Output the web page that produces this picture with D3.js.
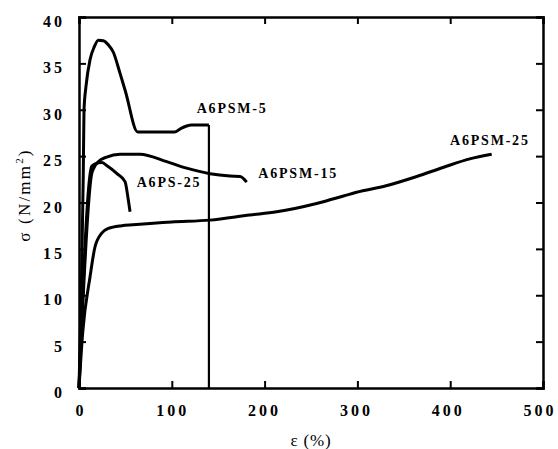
<!DOCTYPE html>
<html>
<head>
<meta charset="utf-8">
<script src="https://cdn.jsdelivr.net/npm/d3@7"></script>
<style>
  body { margin: 0; background: #fff; }
  .tick text { font-family: "Liberation Serif", serif; font-weight: bold; font-size: 16px; letter-spacing: 3px; fill: #000; }
  .lbl { font-family: "Liberation Serif", serif; font-weight: bold; font-size: 14px; letter-spacing: 1.8px; fill: #000; }
  .ttl { font-family: "Liberation Serif", serif; font-size: 17px; fill: #000; }
</style>
</head>
<body>
<div id="chart"></div>
<script>
// curve data (strain %, stress N/mm2)
var psm5X = [0, 1.2, 2.7, 4.6, 5.4, 7.5, 11.9, 16.5, 20.8, 26.2, 31.6, 37, 44, 50, 63.3, 103.4, 110, 116, 121.4, 140, 140]
var psm5Y = [0, 5, 11.6, 23, 30, 32.5, 35.4, 36.8, 37.5, 37.45, 37, 36.2, 34, 32, 27.6, 27.6, 28.0, 28.25, 28.35, 28.35, 0]

var psm15X = [0, 13.7, 15.4, 20.8, 29.8, 44.2, 65.7, 94.5, 116, 141.2, 162.7, 173.5, 180.7]
var psm15Y = [0, 23.1, 23.6, 24.4, 24.9, 25.2, 25.2, 24.4, 23.7, 23.1, 22.85, 22.8, 22.2]

var ps25X = [0, 13.7, 17.2, 24.5, 29.8, 40.6, 49.6, 53.1, 55]
var ps25Y = [0, 23.9, 24.15, 24.3, 24.0, 23.15, 22.25, 20.3, 19.0]

var psm25X = [0, 4, 11.9, 17.2, 24.5, 31.6, 46, 58, 100, 141, 184, 213, 256, 285, 299, 331, 364, 393, 421, 444.7]
var psm25Y = [0, 6, 12.0, 15.2, 16.7, 17.2, 17.5, 17.6, 17.9, 18.1, 18.65, 19.0, 19.9, 20.7, 21.1, 21.8, 22.8, 23.8, 24.7, 25.2]

var xTicks = [0, 100, 200, 300, 400, 500]
var yTicks = [0, 5, 10, 15, 20, 25, 30, 35, 40]

var seriesNames = ['A6PSM-5', 'A6PSM-15', 'A6PS-25', 'A6PSM-25']

var margin = { top: 17, right: 15, bottom: 61, left: 79 }
var W = 558, H = 449
var w = W - margin.left - margin.right
var h = H - margin.top - margin.bottom

var svg = d3.select('#chart').append('svg')
  .attr('width', W)
  .attr('height', H)

var g = svg.append('g')
  .attr('transform', 'translate(' + margin.left + ',' + margin.top + ')')

var xScale = d3.scaleLinear().domain([0, 500]).range([0, w])
var yScale = d3.scaleLinear().domain([0, 40]).range([h, 0])

// axes, ticks pointing inward
var xAxis = g.append('g')
  .attr('transform', 'translate(0,' + h + ')')
  .call(d3.axisBottom(xScale).tickValues(xTicks).tickSize(-7).tickPadding(17).tickFormat(d3.format('d')))
// labels sit a little left of their ticks in the original
xAxis.selectAll('text').attr('dx', d => (1.5 - d * 0.01) + 'px')

var yAxis = g.append('g')
  .call(d3.axisLeft(yScale).tickValues(yTicks).tickSize(-7).tickPadding(14).tickFormat(d3.format('d')))
yAxis.selectAll('text').attr('dy', '9.5px')

g.append('g')
  .call(d3.axisTop(xScale).tickValues(xTicks).tickSize(-7).tickFormat(''))
g.append('g')
  .attr('transform', 'translate(' + w + ',0)')
  .call(d3.axisRight(yScale).tickValues(yTicks).tickSize(-7).tickFormat(''))

g.selectAll('.domain').attr('stroke', '#000').attr('stroke-width', 2.5)
g.selectAll('.tick line').attr('stroke', '#000').attr('stroke-width', 2)

var line = d3.line()
  .x(d => xScale(d[0]))
  .y(d => yScale(d[1]))
  .curve(d3.curveMonotoneX)

function pts(xs, ys) {
  return xs.map((x, i) => [x, ys[i]])
}

var psm5 = pts(psm5X, psm5Y)
var curves = [
  psm5.slice(0, psm5.length - 1),
  pts(psm15X, psm15Y),
  pts(ps25X, ps25Y),
  pts(psm25X, psm25Y)
]

g.selectAll('path.curve')
  .data(curves)
  .enter().append('path')
  .attr('class', 'curve')
  .attr('d', line)
  .attr('fill', 'none')
  .attr('stroke', '#000')
  .attr('stroke-width', 3)
  .attr('stroke-linejoin', 'round')

// failure drop of A6PSM-5 is a thinner line
g.append('path')
  .attr('d', d3.line().x(d => xScale(d[0])).y(d => yScale(d[1]))(psm5.slice(psm5.length - 2)))
  .attr('fill', 'none')
  .attr('stroke', '#000')
  .attr('stroke-width', 2.2)

// series labels
var labelPos = [[196.7, 113.3], [258.3, 178.3], [136.7, 186.7], [450, 145]]
svg.selectAll('text.lbl')
  .data(seriesNames)
  .enter().append('text')
  .attr('class', 'lbl')
  .attr('x', (d, i) => labelPos[i][0])
  .attr('y', (d, i) => labelPos[i][1])
  .text(d => d)

// axis titles
svg.append('text')
  .attr('class', 'ttl')
  .attr('x', 311)
  .attr('y', 446)
  .attr('text-anchor', 'middle')
  .style('letter-spacing', '0.8px')
  .text('ε (%)')

var yt = svg.append('text')
  .attr('class', 'ttl')
  .attr('transform', 'translate(30,195) rotate(-90)')
  .attr('text-anchor', 'middle')
  .style('letter-spacing', '2.2px')
yt.append('tspan').text('σ (N/mm')
yt.append('tspan').attr('dy', -7).style('font-size', '11px').text('2')
yt.append('tspan').attr('dy', 7).text(')')
</script>
</body>
</html>
